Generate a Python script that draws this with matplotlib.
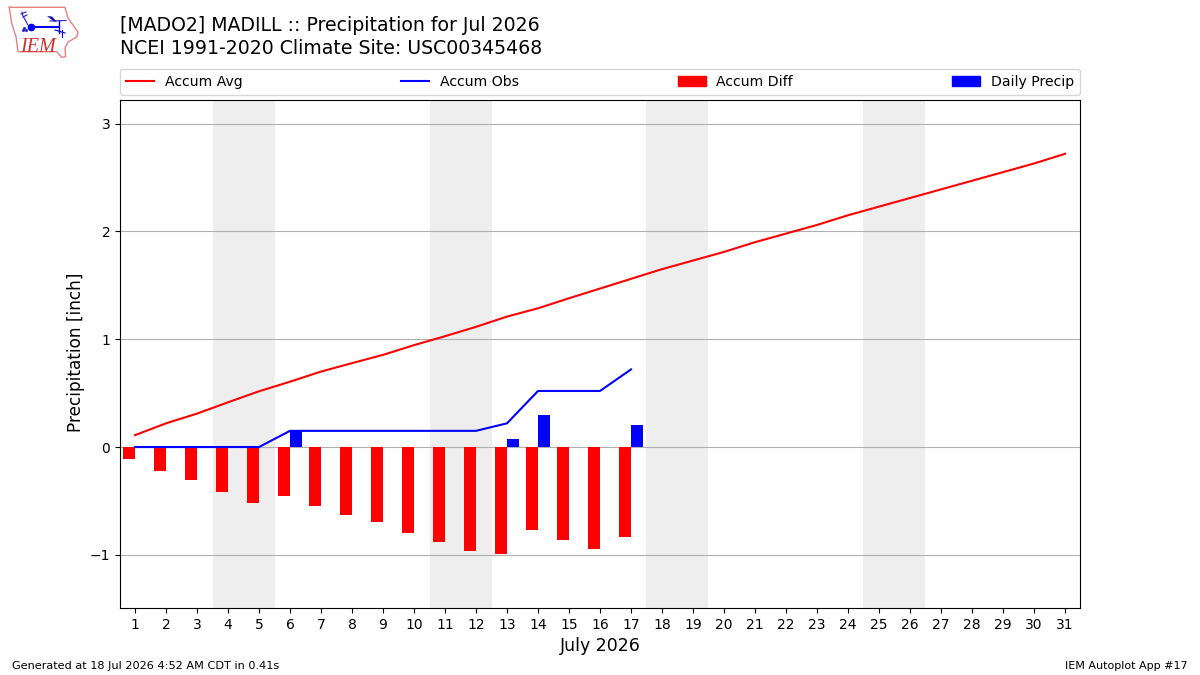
import matplotlib
matplotlib.use('Agg')
import matplotlib.pyplot as plt
from matplotlib.patches import Patch

days = list(range(1, 32))
accum_avg = [0.11, 0.22, 0.31, 0.415, 0.517, 0.606, 0.70, 0.778, 0.855, 0.945, 1.028,
             1.115, 1.21, 1.287, 1.38, 1.47, 1.56, 1.65, 1.73, 1.81, 1.90, 1.98,
             2.06, 2.15, 2.23, 2.31, 2.39, 2.47, 2.55, 2.63, 2.72]
obs_days = list(range(1, 18))
accum_obs = [0, 0, 0, 0, 0, 0.15, 0.15, 0.15, 0.15, 0.15, 0.15, 0.15, 0.22, 0.52, 0.52, 0.52, 0.72]
accum_diff = [-0.11, -0.22, -0.31, -0.415, -0.517, -0.45, -0.545, -0.628, -0.70, -0.795,
              -0.878, -0.962, -0.99, -0.767, -0.86, -0.943, -0.832]
daily_precip = [0, 0, 0, 0, 0, 0.155, 0, 0, 0, 0, 0, 0, 0.075, 0.30, 0, 0, 0.205]
weekends = [(3.5, 5.5), (10.5, 12.5), (17.5, 19.5), (24.5, 26.5)]

fig = plt.figure(figsize=(12, 6.75), dpi=100)
ax = fig.add_axes([0.1, 0.0993, 0.8, 0.7522])

for start, end in weekends:
    ax.axvspan(start, end, color='#eeeeee', lw=0, zorder=0)
ax.grid(axis='y', color='#b0b0b0', lw=0.8, zorder=1)
ax.set_axisbelow(True)

ax.bar(obs_days, accum_diff, width=-0.4, align='edge', color='r', zorder=2)
ax.bar(obs_days, daily_precip, width=0.4, align='edge', color='b', zorder=2)
ax.plot(days, accum_avg, color='r', lw=1.5, zorder=3)
ax.plot(obs_days, accum_obs, color='b', lw=1.5, zorder=3)

ax.set_xlim(0.516, 31.484)
ax.set_ylim(-1.493, 3.217)
ax.set_xticks(days)
ax.set_yticks([-1, 0, 1, 2, 3])
ax.tick_params(labelsize=10)
ax.set_xlabel('July 2026', fontsize=12.5)
ax.set_ylabel('Precipitation [inch]', fontsize=12.2, y=0.503, labelpad=3.5)

handles = [plt.Line2D([], [], color='r', lw=1.5), plt.Line2D([], [], color='b', lw=1.5),
           Patch(color='r'), Patch(color='b')]
labels = ['Accum Avg', 'Accum Obs', 'Accum Diff', 'Daily Precip']
ax.legend(handles, labels, loc='lower left', bbox_to_anchor=(0, 1.01, 1, 0.05),
          ncol=4, mode='expand', borderaxespad=0, fontsize=10.1, borderpad=0.45,
          handletextpad=0.75)

fig.text(0.1, 0.962, '[MADO2] MADILL :: Precipitation for Jul 2026', fontsize=13.6, va='center')
fig.text(0.1, 0.9275, 'NCEI 1991-2020 Climate Site: USC00345468', fontsize=13.6, va='center')
fig.text(0.01, 0.0135, 'Generated at 18 Jul 2026 4:52 AM CDT in 0.41s', fontsize=8.1, va='center')
fig.text(0.99, 0.0135, 'IEM Autoplot App #17', fontsize=8.05, va='center', ha='right')

# small state outline logo, drawn in pixel coordinates
logo = fig.add_axes([0, 0.9, 0.075, 0.1])
logo.set_xlim(0, 90)
logo.set_ylim(67.5, 0)
logo.axis('off')
outline_x = [9.3, 65, 68, 78, 76.7, 68, 65, 65.7, 61.7, 56.7, 18, 16, 11.7, 9.3]
outline_y = [7.3, 7.3, 18, 32, 37, 42, 48, 56.7, 57.3, 51.7, 51.7, 36.7, 23.3, 7.3]
logo.plot(outline_x, outline_y, color='#e88080', lw=1)
logo.plot([31, 59], [27, 27], color='b', lw=1.5)
logo.plot([31], [27], 'o', color='b', ms=4.5)
logo.plot([22, 23, 28], [12, 16, 25], color='#2222cc', lw=0.8)
logo.plot([21, 26], [14, 12], color='#2222cc', lw=0.8)
logo.plot([23, 27], [17, 15], color='#2222cc', lw=0.8)
logo.fill([47, 52, 57, 54], [16, 16.5, 22, 21.5], color='#1111aa', lw=0)
logo.plot([50, 66], [21, 20.5], color='#2222cc', lw=0.8)
logo.plot([59, 59], [21, 33], color='b', lw=1)
logo.plot([55, 65], [30, 33], color='b', lw=0.8)
logo.plot([62, 62], [30, 37], color='b', lw=0.8)
logo.plot([24, 22.5, 25.5], [27.5, 29.5, 29.5], 's', color='#2222cc', ms=1)
logo.text(20.5, 52, 'IEM', color='#d03030', fontsize=14.5, family='Liberation Serif', style='italic')

fig.savefig('out.png', dpi=100)
